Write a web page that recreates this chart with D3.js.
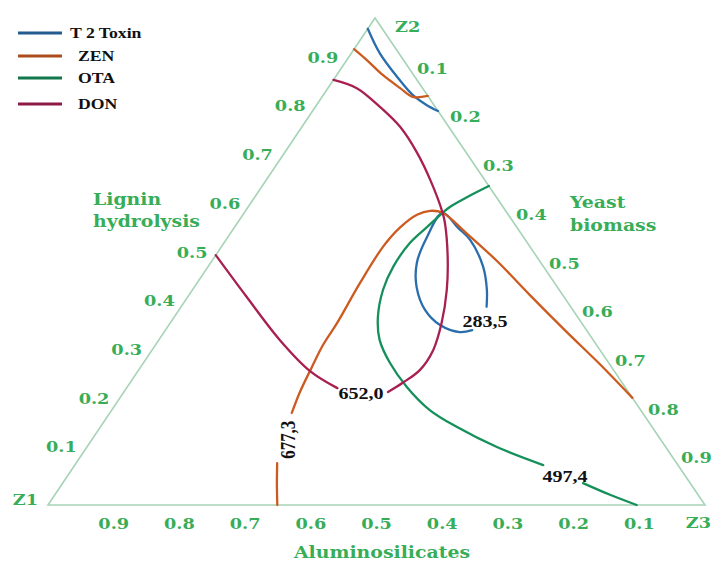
<!DOCTYPE html>
<html>
<head>
<meta charset="utf-8">
<script src="https://cdn.jsdelivr.net/npm/d3@7"></script>
<style>
  html, body { margin: 0; padding: 0; background: #fff; }
  svg { display: block; }
  .green { fill: #38ad58; font-family: "DejaVu Serif", serif; font-weight: bold; font-size: 15px; }
  .title { font-size: 16px; }
  .num { fill: #111; font-family: "Liberation Serif", serif; font-weight: bold; font-size: 17px; }
  .leg { fill: #111; font-family: "Liberation Serif", serif; font-weight: bold; font-size: 15px; }
</style>
</head>
<body>
<div id="chart"></div>
<script>
// series in legend order
const seriesNames = ["T 2 Toxin", "ZEN", "OTA", "DON"];
const seriesColors = ["#2a6dad", "#cc5b20", "#16905a", "#a81f52"];

// ticks on every side of the triangle
const tickValues = [0.1, 0.2, 0.3, 0.4, 0.5, 0.6, 0.7, 0.8, 0.9];
const tickLabels = ["0.1", "0.2", "0.3", "0.4", "0.5", "0.6", "0.7", "0.8", "0.9"];
const vertexNames = ["Z1", "Z2", "Z3"];

// isolines, each point is [Z1, Z2, Z3]
const t2Top = [[0.022, 0.978, 0.000], [0.029, 0.928, 0.043], [0.027, 0.879, 0.094], [0.022, 0.842, 0.136], [0.011, 0.821, 0.168], [0.000, 0.809, 0.191]];
const t2Loop = [[0.128, 0.407, 0.465], [0.110, 0.442, 0.448], [0.092, 0.489, 0.419], [0.084, 0.544, 0.372], [0.090, 0.569, 0.341], [0.098, 0.600, 0.302],
    [0.147, 0.550, 0.303], [0.189, 0.497, 0.314], [0.214, 0.448, 0.338], [0.225, 0.400, 0.375], [0.218, 0.370, 0.412], [0.195, 0.355, 0.450], [0.174, 0.359, 0.467]];

const zenTop = [[0.064, 0.936, 0.000], [0.056, 0.914, 0.030], [0.047, 0.883, 0.070], [0.034, 0.856, 0.110], [0.024, 0.838, 0.138], [0.000, 0.840, 0.160]];
const zenLow = [[0.651, 0.000, 0.349], [0.631, 0.041, 0.328], [0.608, 0.086, 0.306]];
const zenMain = [[0.534, 0.189, 0.277], [0.500, 0.232, 0.268], [0.458, 0.281, 0.261], [0.416, 0.329, 0.255], [0.372, 0.374, 0.254], [0.296, 0.456, 0.248],
    [0.224, 0.530, 0.246], [0.179, 0.569, 0.252], [0.139, 0.596, 0.265], [0.115, 0.604, 0.281], [0.098, 0.600, 0.302], [0.083, 0.559, 0.358],
    [0.065, 0.501, 0.434], [0.050, 0.431, 0.519], [0.032, 0.355, 0.613], [0.015, 0.290, 0.695], [0.000, 0.220, 0.780]];

const otaMain = [[0.000, 0.655, 0.345], [0.045, 0.632, 0.323], [0.081, 0.612, 0.307], [0.098, 0.600, 0.302], [0.136, 0.571, 0.293], [0.179, 0.538, 0.283],
    [0.229, 0.489, 0.282], [0.268, 0.442, 0.290], [0.304, 0.386, 0.310], [0.325, 0.339, 0.336], [0.333, 0.292, 0.375], [0.332, 0.242, 0.426],
    [0.321, 0.195, 0.484], [0.297, 0.160, 0.543], [0.257, 0.119, 0.624], [0.205, 0.082, 0.713]];
const otaLow = [[0.163, 0.045, 0.792], [0.134, 0.021, 0.845], [0.104, 0.000, 0.896]];

const donLeft = [[0.487, 0.513, 0.000], [0.483, 0.427, 0.090], [0.477, 0.339, 0.184], [0.463, 0.275, 0.262], [0.439, 0.240, 0.321]];
const donRight = [[0.366, 0.232, 0.402], [0.334, 0.251, 0.415], [0.295, 0.277, 0.428], [0.254, 0.318, 0.428], [0.213, 0.374, 0.413], [0.171, 0.442, 0.387],
    [0.136, 0.509, 0.355], [0.105, 0.579, 0.316], [0.098, 0.600, 0.302], [0.083, 0.667, 0.250], [0.075, 0.723, 0.202], [0.074, 0.776, 0.150],
    [0.084, 0.817, 0.099], [0.100, 0.856, 0.044], [0.127, 0.873, 0.000]];

const seriesCurves = [[t2Top, t2Loop], [zenTop, zenLow, zenMain], [otaMain, otaLow], [donLeft, donRight]];

// values written on the isolines
const contourLabels = ["283,5", "652,0", "497,4", "677,3"];
const contourLabelPos = [[0.145, 0.378, 0.477], [0.408, 0.230, 0.362], [0.183, 0.060, 0.757], [0.568, 0.134, 0.298]];

const width = 712, height = 564;
const Z1 = [48, 505], Z2 = [375, 18], Z3 = [705, 505];
const stretch = 1.18;

const svg = d3.select("#chart").append("svg")
    .attr("width", width)
    .attr("height", height)
    .attr("viewBox", [0, 0, width, height]);

// ternary -> pixel
const yScale = d3.scaleLinear().domain([0, 1]).range([Z1[1], Z2[1]]);
const leftEdge = d3.scaleLinear().domain([0, 1]).range([Z1[0], Z2[0]]);
const cScale = d3.scaleLinear().domain([0, 1]).range([0, Z3[0] - Z1[0]]);
const project = ([a, b, c]) => [leftEdge(b) + cScale(c), yScale(b)];

const addText = (x, y, text, anchor, cls, rot = 0) => svg.append("text")
    .attr("transform", `translate(${x},${y}) scale(${stretch},1)` + (rot ? ` rotate(${rot})` : ""))
    .attr("text-anchor", anchor)
    .attr("class", cls)
    .text(text);

// triangle
svg.append("path")
    .attr("d", d3.line()([Z1, Z2, Z3]) + "Z")
    .attr("fill", "none")
    .attr("stroke", "#a6d4b6")
    .attr("stroke-width", 1.6);

// tick labels
tickValues.forEach((v, i) => {
    const pb = project([v, 0, 1 - v]);
    addText(pb[0], pb[1] + 24, tickLabels[i], "middle", "green");
    const pl = project([1 - v, v, 0]);
    addText(pl[0] - 4, pl[1] - 4, tickLabels[i], "end", "green");
    const pr = project([0, 1 - v, v]);
    addText(pr[0] + 9, pr[1] + 7, tickLabels[i], "start", "green");
});

addText(Z1[0] - 10, Z1[1], vertexNames[0], "end", "green");
addText(Z2[0] + 20, Z2[1] + 14, vertexNames[1], "start", "green");
addText(711, Z3[1] + 23, vertexNames[2], "end", "green");

addText(382, 558, "Aluminosilicates", "middle", "green title");
addText(93, 205, "Lignin", "start", "green title");
addText(93, 227, "hydrolysis", "start", "green title");
addText(570, 208, "Yeast", "start", "green title");
addText(570, 231, "biomass", "start", "green title");

// isolines
const line = d3.line().x(d => project(d)[0]).y(d => project(d)[1]).curve(d3.curveCatmullRom.alpha(0.5));
seriesCurves.forEach((curves, i) => {
    svg.append("g")
        .selectAll("path")
        .data(curves)
        .join("path")
            .attr("d", line)
            .attr("fill", "none")
            .attr("stroke", seriesColors[i])
            .attr("stroke-width", 2.3)
            .attr("stroke-linecap", "round");
});

contourLabels.forEach((t, i) => {
    const p = project(contourLabelPos[i]);
    addText(p[0], p[1], t, "middle", "num", i === 3 ? -90 : 0)
        .attr("dominant-baseline", "central");
});

// legend
const legendY = [33, 56, 78, 104];
seriesNames.forEach((name, i) => {
    svg.append("line")
        .attr("x1", 18).attr("x2", 62)
        .attr("y1", legendY[i]).attr("y2", legendY[i])
        .attr("stroke", d3.color(seriesColors[i]).darker(0.5))
        .attr("stroke-width", 3);
    addText(i === 0 ? 70 : 78, legendY[i] + 5, name, "start", "leg");
});
</script>
</body>
</html>
